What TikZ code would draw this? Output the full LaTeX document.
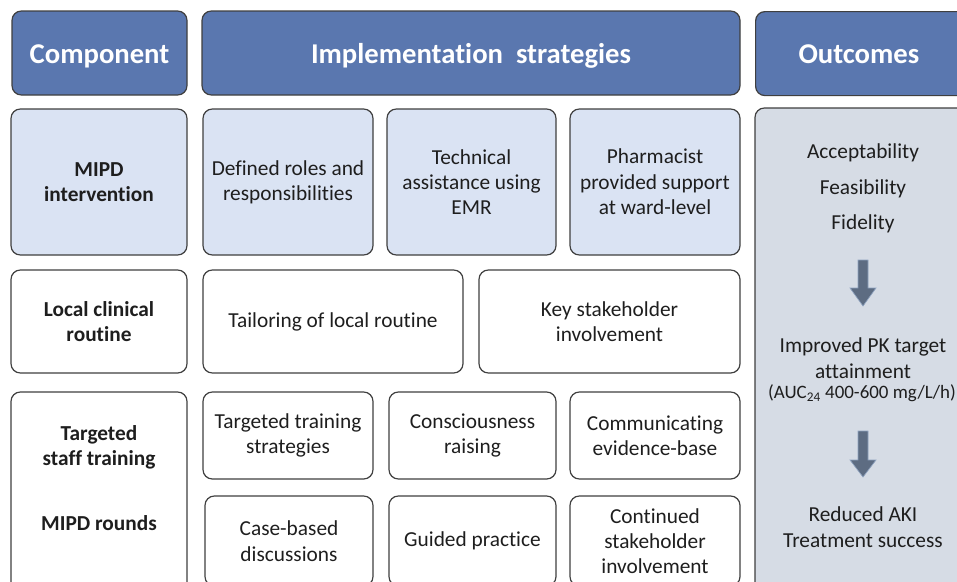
\documentclass[tikz,border=0pt]{standalone}
\usepackage{fontspec}
\setmainfont{Carlito}[Ligatures=NoCommon]
\definecolor{headfill}{HTML}{5A77AF}
\definecolor{edge}{HTML}{3F3F3F}
\definecolor{lightblue}{HTML}{DAE3F3}
\definecolor{outfill}{HTML}{D6DCE5}
\definecolor{arrowfill}{HTML}{5D6C82}
\definecolor{arrowedge}{HTML}{8FA3C0}
\definecolor{ink}{HTML}{1E1E1E}
\tikzset{
  base/.style={draw=edge, line width=0.9pt, rounded corners=7pt, align=center,
    inner sep=2pt, text=ink, font=\fontsize{16}{19}\selectfont},
  header/.style={base, fill=headfill, text=white, font=\fontsize{21.5}{25}\selectfont\bfseries,
    text height=15.3pt, text depth=0pt},
  compbox/.style={base, font=\fontsize{16}{19}\selectfont\bfseries},
  stratbox/.style={base},
  bluebox/.style={fill=lightblue},
  outbox/.style={base, fill=outfill},
  outtext/.style={text=ink, align=center, font=\fontsize{16}{19}\selectfont, inner sep=0pt},
  blockarrow/.style={fill=arrowfill, draw=arrowedge, line width=0.5pt}
}
% box given by its corners in pixel units: name, style, x1, y1, x2, y2, text
\newcommand{\pbox}[7]{%
  \node[#2, minimum width={(#5-#3)*0.75pt}, minimum height={(#6-#4)*0.75pt}]
    (#1) at ({(#3+#5)/2},{(#4+#6)/2}) {#7};}
\begin{document}
\begin{tikzpicture}[x=0.75pt, y=-0.75pt]
\useasboundingbox (0,0) rectangle (957,582);
\clip (0,0) rectangle (957,582);

% column headers
\pbox{hcomp}{header}{12}{11}{187}{95}{Component}
\pbox{himpl}{header}{202}{11}{740}{95}{Implementation\ \ strategies}
\node[header, minimum width={(975-755)*0.75pt}, minimum height={84*0.75pt}, anchor=north west,
  text width={200*0.75pt}] (hout) at (755,11) {\hspace*{-10pt}Outcomes};

% MIPD intervention row
\pbox{cmipd}{compbox,bluebox}{11}{109}{187}{255}{MIPD\\intervention}
\pbox{sroles}{stratbox,bluebox}{203}{109}{373}{255}{Defined roles and\\responsibilities}
\pbox{semr}{stratbox,bluebox}{387}{109}{556}{255}{Technical\\assistance using\\EMR}
\pbox{spharm}{stratbox,bluebox}{570}{109}{740}{255}{Pharmacist\\provided support\\at ward-level}

% local clinical routine row
\pbox{clocal}{compbox}{11}{270}{187}{373}{Local clinical\\routine}
\pbox{stailor}{stratbox}{203}{270}{463}{373}{Tailoring of local routine}
\pbox{skey}{stratbox}{479}{270}{740}{373}{Key stakeholder\\involvement}

% staff training / rounds
\pbox{ctrain}{compbox}{11}{392}{187}{600}{}
\node[text=ink, align=center, font=\fontsize{16}{19}\selectfont\bfseries] (ttrain) at (99,447) {Targeted\\staff training};
\node[text=ink, font=\fontsize{16}{19}\selectfont\bfseries] (trounds) at (99,523) {MIPD rounds};

\pbox{strain}{stratbox}{203}{392}{373}{479}{Targeted training\\strategies}
\pbox{sconsc}{stratbox}{389}{392}{556}{479}{Consciousness\\raising}
\pbox{scomm}{stratbox}{570}{392}{740}{479}{Communicating\\evidence-base}

\pbox{scase}{stratbox}{205}{496}{373}{586}{Case-based\\discussions}
\pbox{sguide}{stratbox}{389}{496}{556}{586}{Guided practice}
\pbox{scont}{stratbox}{570}{496}{740}{586}{Continued\\stakeholder\\involvement}

% outcomes column
\pbox{outcol}{outbox}{755}{108}{975}{600}{}
\node[outtext] (acc) at (863,153) {Acceptability};
\node[outtext] (fea) at (863,189) {Feasibility};
\node[outtext] (fid) at (863,224) {Fidelity};
\node[outtext] (pk) at (863,358) {Improved PK target\\attainment};
\node[outtext, font=\fontsize{14.2}{17}\selectfont] (auc) at (862,393) {(AUC\textsubscript{24} 400-600 mg/L/h)};
\node[outtext] (aki) at (863,527) {Reduced AKI\\Treatment success};

% block arrows between outcome levels
\draw[blockarrow] (858,260) -- (868,260) -- (868,288) -- (876,288) -- (863,306)
  -- (850,288) -- (858,288) -- cycle;
\draw[blockarrow] (858,431) -- (868,431) -- (868,460) -- (876,460) -- (863,477)
  -- (850,460) -- (858,460) -- cycle;
\end{tikzpicture}
\end{document}
